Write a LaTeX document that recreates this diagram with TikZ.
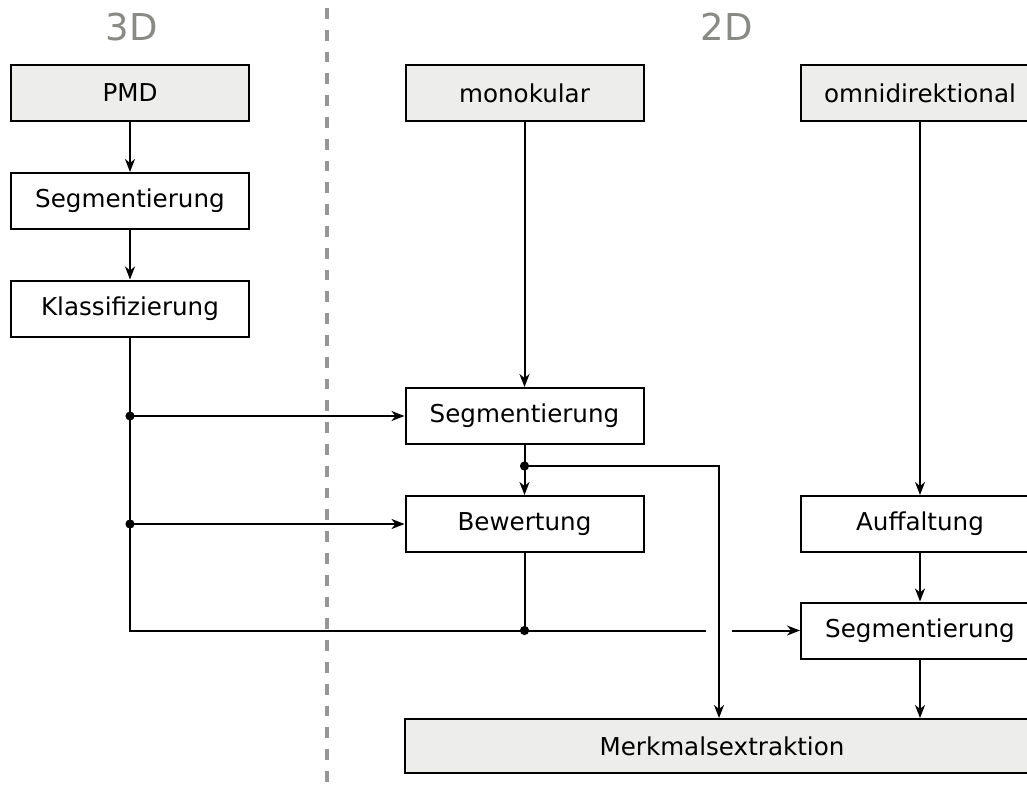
\documentclass[tikz,border=0pt]{standalone}
\usepackage{fontspec}
\setmainfont{DejaVu Sans}
\usepackage{xcolor}
\usetikzlibrary{arrows.meta}
\definecolor{boxfill}{RGB}{237,237,235}
\definecolor{labelgray}{RGB}{136,138,133}
\definecolor{sepgray}{RGB}{150,150,150}

\begin{document}
\begin{tikzpicture}[x=0.5pt, y=-0.5pt, font=\fontsize{12.3}{15}\selectfont,
box/.style={draw, line width=1pt, minimum width=119pt, minimum height=28pt, inner sep=0pt, fill=white},
source/.style={box, fill=boxfill},
arrow/.style={-{Stealth[length=6.5pt, width=5pt, inset=2pt]}, line width=1pt},
link/.style={line width=1pt},
junction/.style={fill=black},
head/.style={text=labelgray, font=\fontsize{18.5}{22}\selectfont},
sep/.style={draw=sepgray, line width=2pt, dash pattern=on 5.4pt off 5.5pt}]
\useasboundingbox (0,0) rectangle (1027,792);
% column headers and separator
\node[head] (h3d) at (132,27) {3D};
\node[head] (h2d) at (727,27) {2D};
\coordinate (septop) at (327,8);
\coordinate (sepbot) at (327,792);
\draw[sep] (septop) -- (sepbot);
% boxes
\node[source] (pmd) at (130,93) {PMD};
\node[box] (segA) at (130,201) {Segmentierung};
\node[box] (klass) at (130,308.5) {Klassifizierung};
\node[source] (mono) at (524.5,93) {monokular};
\node[source] (omni) at (920,93) {omnidirektional};
\node[box] (segB) at (524.5,416) {Segmentierung};
\node[box] (bew) at (524.5,524) {Bewertung};
\node[box] (auff) at (920,524) {Auffaltung};
\node[box] (segC) at (920,630.5) {Segmentierung};
\node[source, minimum width=317pt, minimum height=27pt] (merk) at (722,746) {Merkmalsextraktion};
% branch points
\coordinate (j1) at (klass.south |- segB.west);
\coordinate (j2) at (klass.south |- bew.west);
\coordinate (j3) at (klass.south |- segC.west);
\coordinate (j4) at (524.5,466);
\coordinate (j5) at (bew.south |- segC.west);
\coordinate (m4) at (719,466);
\coordinate (gapL) at (706,630.5);
\coordinate (gapR) at (732,630.5);
% 3D path
\draw[arrow] (pmd) -- (segA);
\draw[arrow] (segA) -- (klass);
\draw[link] (klass.south) -- (j3) -- (gapL);
\draw[arrow] (j1) -- (segB.west);
\draw[arrow] (j2) -- (bew.west);
% monocular path
\draw[arrow] (mono) -- (segB);
\draw[arrow] (segB) -- (bew);
\draw[link] (bew) -- (j5);
\draw[arrow] (j4) -- (m4) -- (m4 |- merk.north);
% omnidirectional path
\draw[arrow] (omni) -- (auff);
\draw[arrow] (auff) -- (segC);
\draw[arrow] (gapR) -- (segC.west);
\draw[arrow] (segC) -- (segC |- merk.north);
% dots
\foreach \j in {j1,j2,j4,j5}
  \fill[junction] (\j) circle (2.3pt);
\end{tikzpicture}
\end{document}
